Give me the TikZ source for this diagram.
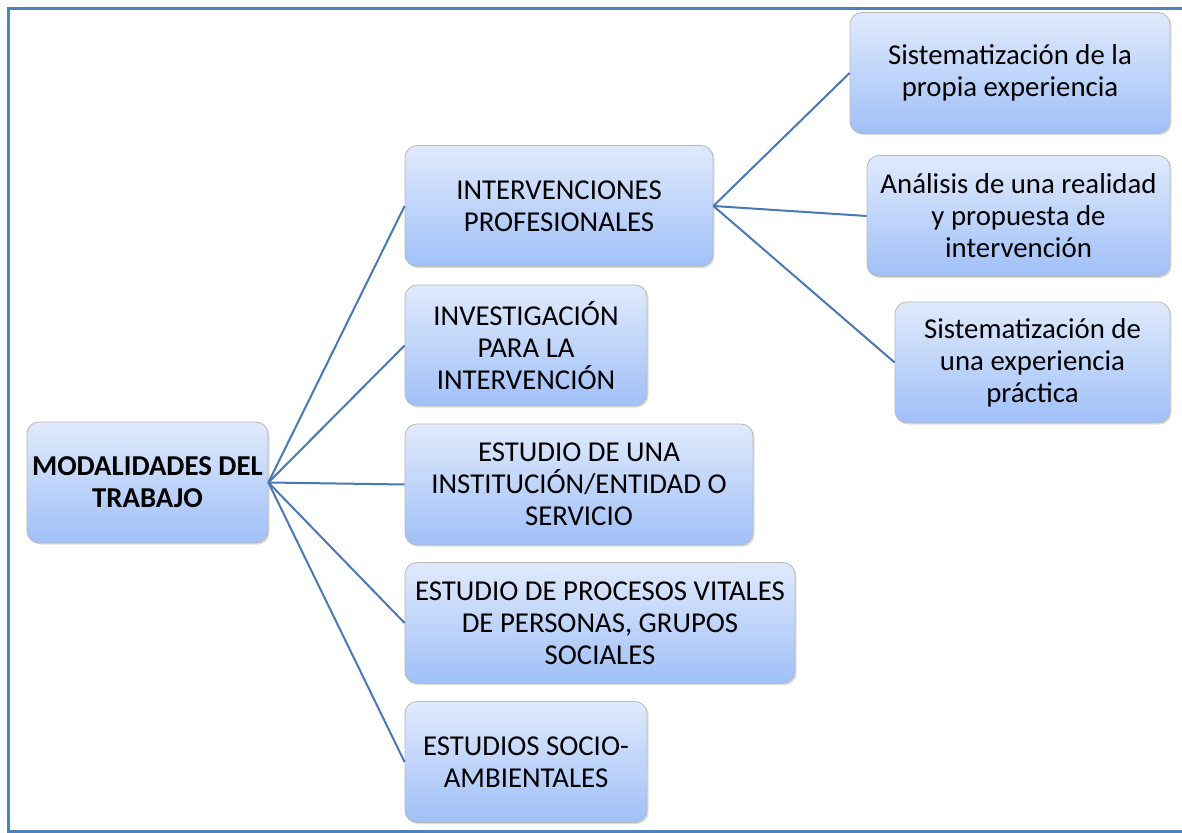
\documentclass[tikz,border=0pt]{standalone}
\usepackage{fontspec}
\setmainfont{Carlito}
\usetikzlibrary{positioning,shadows}
\definecolor{boxtop}{RGB}{224,234,252}
\definecolor{boxbottom}{RGB}{160,192,248}
\definecolor{linkblue}{RGB}{74,120,180}
\definecolor{frameblue}{RGB}{79,129,189}

\begin{document}
\begin{tikzpicture}[
    x=0.5pt, y=-0.5pt,
    topicbox/.style={
        draw=gray!55,
        rounded corners=6pt,
        line width=0.4pt,
        top color=boxtop,
        bottom color=boxbottom,
        align=center,
        minimum height=60.5pt,
        inner sep=0pt,
        font=\fontsize{14.4}{16}\selectfont,
        drop shadow={shadow xshift=0.8pt, shadow yshift=-0.8pt, opacity=0.25}
    },
    link/.style={draw=linkblue, line width=1pt}
]
    % Page size and frame
    \useasboundingbox (0,0) rectangle (1182,833);
    \draw[frameblue, line width=1.6pt] (1200,8.5) -- (8.5,8.5) -- (8.5,831.5) -- (1200,831.5);

    % Root
    \node[topicbox, minimum width=120.5pt, font=\fontsize{14.4}{16}\selectfont\bfseries] (root) at (147.5,482.5) {MODALIDADES DEL\\TRABAJO};

    % Modalities
    \node[topicbox, minimum width=154pt] (intv) at (559,206) {INTERVENCIONES\\PROFESIONALES};
    \node[topicbox, minimum width=121pt] (invest) at (526,345.5) {INVESTIGACIÓN\\PARA LA\\INTERVENCIÓN};
    \node[topicbox, minimum width=174pt] (inst) at (579,484.5) {ESTUDIO DE UNA\\INSTITUCIÓN/ENTIDAD O\\SERVICIO};
    \node[topicbox, minimum width=195pt] (proc) at (600,623) {ESTUDIO DE PROCESOS VITALES\\DE PERSONAS, GRUPOS\\SOCIALES};
    \node[topicbox, minimum width=121pt] (socio) at (526,762) {ESTUDIOS SOCIO-\\AMBIENTALES};

    % Professional interventions
    \node[topicbox, minimum width=160pt] (sist1) at (1010,73) {Sistematización de la\\propia experiencia};
    \node[topicbox, minimum width=151.5pt] (anal) at (1018.5,216) {Análisis de una realidad\\y propuesta de\\intervención};
    \node[topicbox, minimum width=137.5pt] (sist2) at (1032.5,362.5) {Sistematización de\\una experiencia\\práctica};

    % Connectors
    \foreach \child in {intv,invest,inst,proc,socio}
        \draw[link] (root.east) -- (\child.west);
    \foreach \child in {sist1,anal,sist2}
        \draw[link] (intv.east) -- (\child.west);
\end{tikzpicture}
\end{document}
